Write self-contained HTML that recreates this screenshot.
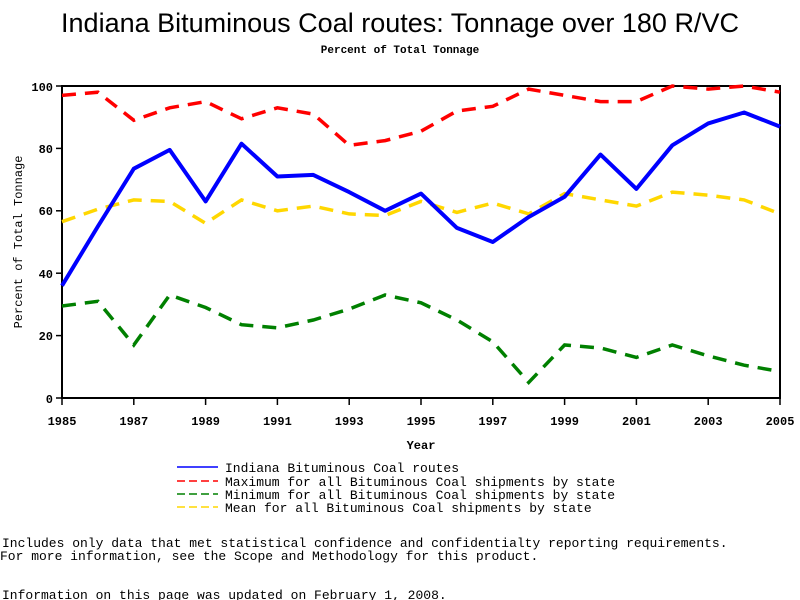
<!DOCTYPE html>
<html><head><meta charset="utf-8"><style>
body{margin:0;background:#fff;}
svg{display:block;}
text{font-family:"Liberation Mono",monospace;}
</style></head><body>
<svg width="800" height="600" viewBox="0 0 800 600" xmlns="http://www.w3.org/2000/svg">
<text x="400" y="32" text-anchor="middle" style="font-family:'Liberation Sans',sans-serif;font-size:27px">Indiana Bituminous Coal routes: Tonnage over 180 R/VC</text>
<text x="400" y="53" text-anchor="middle" font-size="11" font-weight="bold">Percent of Total Tonnage</text>
<g stroke="#000" stroke-width="2" fill="none">
<rect x="62" y="86" width="718" height="312"/>
</g>
<g stroke="#000" stroke-width="1.5">
<line x1="56" y1="86" x2="62" y2="86"/><line x1="56" y1="148.4" x2="62" y2="148.4"/><line x1="56" y1="210.8" x2="62" y2="210.8"/><line x1="56" y1="273.2" x2="62" y2="273.2"/><line x1="56" y1="335.6" x2="62" y2="335.6"/><line x1="56" y1="398" x2="62" y2="398"/>
<line x1="62" y1="398" x2="62" y2="405"/><line x1="133.8" y1="398" x2="133.8" y2="405"/><line x1="205.6" y1="398" x2="205.6" y2="405"/><line x1="277.4" y1="398" x2="277.4" y2="405"/><line x1="349.2" y1="398" x2="349.2" y2="405"/><line x1="421" y1="398" x2="421" y2="405"/><line x1="492.8" y1="398" x2="492.8" y2="405"/><line x1="564.6" y1="398" x2="564.6" y2="405"/><line x1="636.4" y1="398" x2="636.4" y2="405"/><line x1="708.2" y1="398" x2="708.2" y2="405"/><line x1="780" y1="398" x2="780" y2="405"/>
</g>
<g font-size="12" font-weight="bold" text-anchor="end">
<text x="53" y="91">100</text><text x="53" y="153">80</text><text x="53" y="215">60</text><text x="53" y="278">40</text><text x="53" y="340">20</text><text x="53" y="403">0</text>
</g>
<g font-size="12" font-weight="bold" text-anchor="middle">
<text x="62" y="425">1985</text><text x="133.8" y="425">1987</text><text x="205.6" y="425">1989</text><text x="277.4" y="425">1991</text><text x="349.2" y="425">1993</text><text x="421" y="425">1995</text><text x="492.8" y="425">1997</text><text x="564.6" y="425">1999</text><text x="636.4" y="425">2001</text><text x="708.2" y="425">2003</text><text x="780" y="425">2005</text>
<text x="421" y="449">Year</text>
</g>
<text transform="translate(22,242) rotate(-90)" text-anchor="middle" font-size="12">Percent of Total Tonnage</text>
<g fill="none" stroke-width="3.5" stroke-dasharray="14,9">
<polyline stroke="#ff0000" points="62,95.4 97.9,92.2 133.8,120.3 169.7,107.8 205.6,101.6 241.5,118.8 277.4,107.8 313.3,114.1 349.2,145.3 385.1,140.6 421,131.2 456.9,111 492.8,106.3 528.7,89.1 564.6,95.4 600.5,101.6 636.4,101.6 672.3,86 708.2,89.1 744.1,86 780,92.2"/>
<polyline stroke="#008000" points="62,306 97.9,301.3 133.8,345 169.7,295 205.6,307.5 241.5,324.7 277.4,327.8 313.3,320 349.2,309 385.1,295 421,302.8 456.9,320 492.8,341.8 528.7,382.4 564.6,345 600.5,348 636.4,357.4 672.3,345 708.2,355.9 744.1,365.2 780,371.5"/>
<polyline stroke="#ffd700" points="62,221.7 97.9,209.2 133.8,199.9 169.7,201.4 205.6,223.3 241.5,199.9 277.4,210.8 313.3,206.1 349.2,213.9 385.1,215.5 421,201.4 456.9,212.4 492.8,203 528.7,213.9 564.6,193.6 600.5,199.9 636.4,206.1 672.3,192.1 708.2,195.2 744.1,199.9 780,213.9"/>
</g>
<polyline fill="none" stroke="#0000ff" stroke-width="4" stroke-linejoin="round" points="62,285.7 97.9,226.4 133.8,168.7 169.7,149.9 205.6,201.4 241.5,143.7 277.4,176.5 313.3,174.9 349.2,192.1 385.1,210.8 421,193.6 456.9,227.9 492.8,242 528.7,217 564.6,196.8 600.5,154.6 636.4,188.9 672.3,145.3 708.2,123.4 744.1,112.5 780,126.6"/>
<g stroke-width="1.5">
<line x1="177" y1="467" x2="218" y2="467" stroke="#0000ff"/>
<line x1="177" y1="481" x2="218" y2="481" stroke="#ff0000" stroke-dasharray="8,4"/>
<line x1="177" y1="494" x2="218" y2="494" stroke="#008000" stroke-dasharray="8,4"/>
<line x1="177" y1="507" x2="218" y2="507" stroke="#ffd700" stroke-dasharray="8,4"/>
</g>
<g font-size="13">
<text x="225" y="472">Indiana Bituminous Coal routes</text>
<text x="225" y="486">Maximum for all Bituminous Coal shipments by state</text>
<text x="225" y="499">Minimum for all Bituminous Coal shipments by state</text>
<text x="225" y="512">Mean for all Bituminous Coal shipments by state</text>
<text x="2" y="547">Includes only data that met statistical confidence and confidentialty reporting requirements.</text>
<text x="0" y="560">For more information, see the Scope and Methodology for this product.</text>
<text x="2" y="599">Information on this page was updated on February 1, 2008.</text>
</g>
</svg>
</body></html>
